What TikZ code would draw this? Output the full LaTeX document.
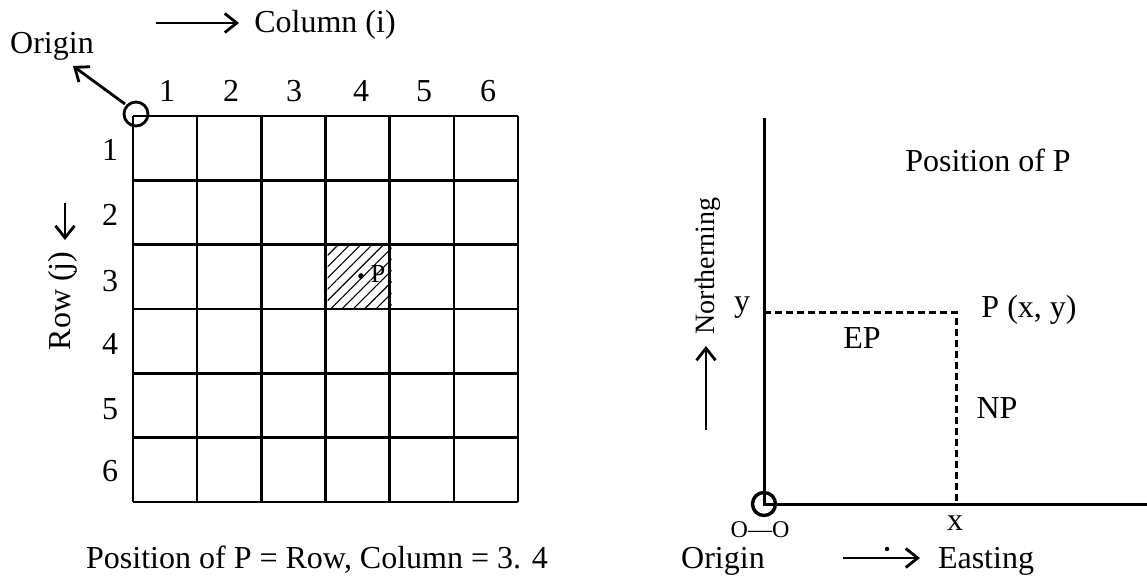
\documentclass[tikz,border=0pt]{standalone}
\usepackage{fontspec}
\setmainfont{Liberation Serif}
\usetikzlibrary{arrows.meta,patterns.meta}
\begin{document}
\begin{tikzpicture}[x=1pt,y=1pt,
  lbl/.style={font=\fontsize{32}{34}\selectfont, inner sep=0pt},
  small/.style={font=\fontsize{24}{26}\selectfont, inner sep=0pt},
  axis/.style={line width=3pt},
  gridline/.style={line width=2.6pt},
  arr/.style={line width=2.8pt,-{Straight Barb[length=12pt,width=19pt,line width=2.8pt]}},
  dashline/.style={line width=3pt, dash pattern=on 7pt off 4pt}
]
\useasboundingbox (0,0) rectangle (1147,-583);
% ---------- left grid ----------
\fill[pattern={Lines[angle=45,distance=8pt,line width=1.1pt]}] (327.5,-245) rectangle (391.7,-309.7);
\foreach \i in {0,...,6} {
  \draw[gridline] (133+\i*64.17,-116) -- (133+\i*64.17,-502);
  \draw[gridline] (133,-116-\i*64.33) -- (518,-116-\i*64.33);
}
\fill (361,-276) circle (2.8pt);
\node[lbl,font=\fontsize{26}{28}\selectfont] (P) at (378,-274) {P};
\foreach \c/\x in {1/167,2/231,3/294,4/361,5/424,6/488}
  \node[lbl] (c\c) at (\x,-91) {\c};
\foreach \r/\y in {1/150,2/215,3/281,4/344,5/409,6/471}
  \node[lbl] (r\r) at (110,-\y) {\r};
\draw[line width=2.8pt] (136,-114) circle (12pt);
\coordinate (gO) at (136,-114);
\node[lbl] (origL) at (52,-46) {Origin};
\coordinate (origArrow) at (73,-66);
\draw[arr] (125,-104) -- (origArrow);
\node[lbl] (colL) at (325,-25) {Column (i)};
\coordinate (ca1) at (156,-23);
\coordinate (ca2) at (239,-23);
\draw[arr] (ca1) -- (ca2);
\node[lbl,rotate=90] (rowL) at (63,-301) {Row (j)};
\coordinate (ra1) at (65,-203);
\coordinate (ra2) at (65,-240);
\draw[arr] (ra1) -- (ra2);
\node[lbl] (capL) at (317,-560) {Position of P = Row, Column = 3. 4};
% ---------- right axes ----------
\coordinate (O) at (764,-504);
\coordinate (Ytop) at (764,-118);
\coordinate (Xend) at (1147,-504);
\coordinate (Yp) at (764,-312);
\coordinate (Pp) at (956,-312);
\coordinate (Xp) at (956,-504);
\draw[axis] (Ytop) -- (O) -- (Xend);
\draw[line width=3.4pt] (O) circle (11.5pt);
\draw[dashline] (Yp) -- (Pp) -- (Xp);
\node[lbl] (yL) at (742,-308) {y};
\node[lbl] (PxyL) at (1029,-310) {P (x, y)};
\node[lbl] (EPL) at (862,-338) {EP};
\node[lbl] (NPL) at (997,-408) {NP};
\node[lbl] (xL) at (955,-523) {x};
\node[small] (OOL) at (760,-530) {O---O};
\node[lbl] (origR) at (723,-561) {Origin};
\node[lbl] (eastL) at (986,-561) {Easting};
\coordinate (ea1) at (843,-558);
\coordinate (ea2) at (920,-558);
\draw[arr] (ea1) -- (ea2);
\fill (887,-549) circle (2.2pt);
\node[lbl] (posL) at (988,-160) {Position of P};
\node[lbl,rotate=90,font=\fontsize{28}{30}\selectfont] (northL) at (708,-266) {Northerning};
\coordinate (na1) at (706,-430);
\coordinate (na2) at (706,-346);
\draw[arr] (na1) -- (na2);
\end{tikzpicture}
\end{document}
